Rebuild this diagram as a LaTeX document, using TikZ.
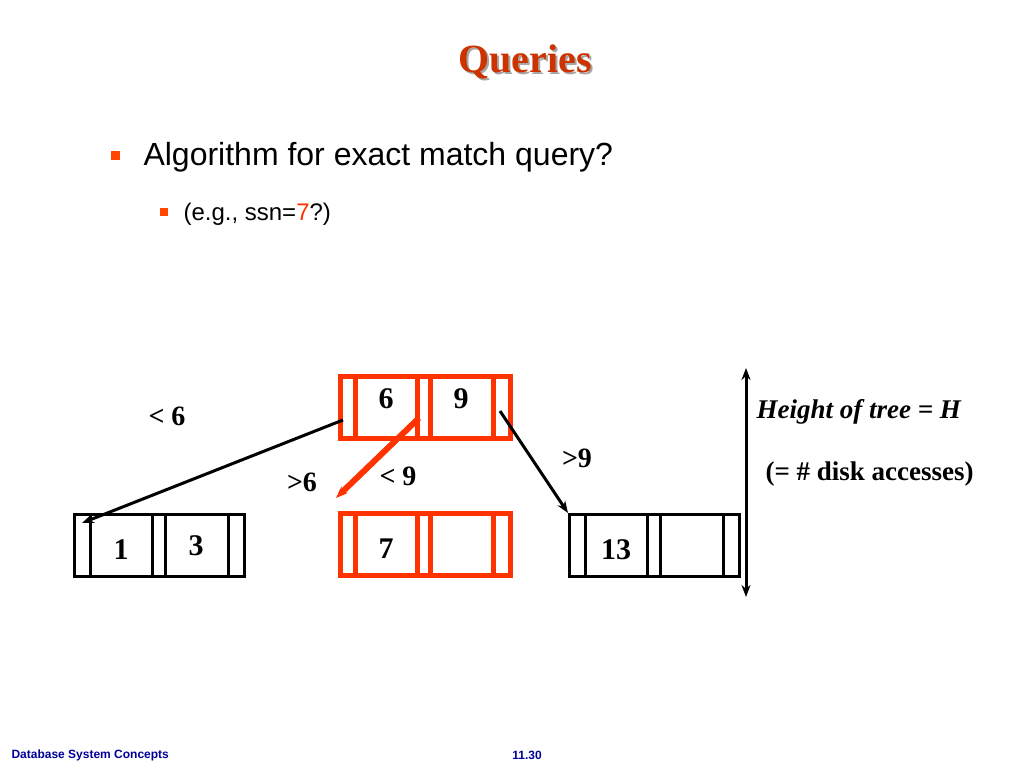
\documentclass[tikz,border=0pt]{standalone}
\usepackage{fontspec}
\setmainfont{Liberation Serif}
\setsansfont{Liberation Sans}
\usetikzlibrary{positioning,arrows.meta}
\definecolor{titlered}{RGB}{204,51,0}
\definecolor{hot}{RGB}{255,51,0}
\definecolor{footblue}{RGB}{0,0,153}
\tikzset{
  keytext/.style={font=\fontsize{30}{30}\selectfont\bfseries},
  lbl/.style={font=\fontsize{28}{28}\selectfont\bfseries},
  bullet/.style={fill=hot!90!yellow, minimum size=9pt, inner sep=0pt},
  ptr/.style={-{Stealth[length=12pt,width=9pt]}, line width=3pt},
}
% one B-tree page: name, left x, top y, colour, line width, key1 dy, key1, key2
\newcommand{\bpage}[8]{
  \node[draw=#4, line width=#5, minimum width=170pt, minimum height=62pt,
        inner sep=0pt, anchor=north west] (#1) at (#2,#3) {};
  \foreach \dx in {17,79,92,155}
    \draw[#4, line width=#5] ([xshift=\dx pt]#1.north west) -- ([xshift=\dx pt]#1.south west);
  \node[keytext] (#1-k1) at ([xshift=48pt, yshift=#6]#1.west) {#7};
  \node[keytext] (#1-k2) at ([xshift=123pt, yshift=#6]#1.west) {#8};
}
\begin{document}
\begin{tikzpicture}[x=1pt,y=-1pt]
    \useasboundingbox (0,0) rectangle (1024,768);
    \node[text=black!35, font=\fontsize{40}{40}\selectfont\bfseries] (shadow) at (527,64) {Queries};
    \node[text=titlered, font=\fontsize{40}{40}\selectfont\bfseries] (title) at (525,62) {Queries};
    \node[bullet] (b1) at (115,155) {};
    \node[anchor=west, font=\sffamily\fontsize{32}{32}\selectfont] (q1) at (140,157) {Algorithm for exact match query?};
    \node[bullet, minimum size=8pt] (b2) at (164,212) {};
    \node[anchor=west, font=\sffamily\fontsize{24}{24}\selectfont] (q2) at (180,214) {(e.g., ssn=\textcolor{hot}{7}?)};

    \bpage{root}{338}{374}{hot}{5pt}{9pt}{6}{9}
    \bpage{left}{73}{513}{black}{3pt}{-4pt}{1}{\raisebox{8pt}{3}}
    \bpage{mid}{338}{511}{hot}{5pt}{-4pt}{7}{}
    \bpage{right}{568}{513}{black}{3pt}{-4pt}{13}{}

    \coordinate (l-start) at (343,420);
    \coordinate (l-end) at (82,523);
    \coordinate (m-start) at (419,418);
    \coordinate (m-end) at (336,498);
    \coordinate (r-start) at (500,411);
    \coordinate (h-top) at (746,368);
    \coordinate (h-bot) at (746,597);
    \draw[ptr] (l-start) -- (l-end);
    \draw[ptr, hot, line width=6pt] (m-start) -- (m-end);
    \draw[ptr] (r-start) -- (right.north west);
    \draw[ptr, {Stealth[length=12pt,width=9pt]}-{Stealth[length=12pt,width=9pt]}] (h-top) -- (h-bot);

    \node[lbl] (lt6) at (167,416) {< 6};
    \node[lbl] (gt6) at (302,482) {>6};
    \node[lbl] (lt9) at (398,476) {< 9};
    \node[lbl] (gt9) at (577,458) {>9};
    \node[lbl, anchor=west, font=\fontsize{27}{27}\selectfont\bfseries\itshape] (height) at (753,412) {Height of tree = H};
    \node[lbl, anchor=west, font=\fontsize{27}{27}\selectfont\bfseries] (acc) at (762,474) {(= \# disk accesses)};

    \node[anchor=west, text=footblue, font=\sffamily\bfseries\fontsize{12}{12}\selectfont] (foot) at (8,755) {Database System Concepts};
    \node[text=footblue, font=\sffamily\bfseries\fontsize{12}{12}\selectfont] (page) at (527,755) {11.30};
\end{tikzpicture}
\end{document}
